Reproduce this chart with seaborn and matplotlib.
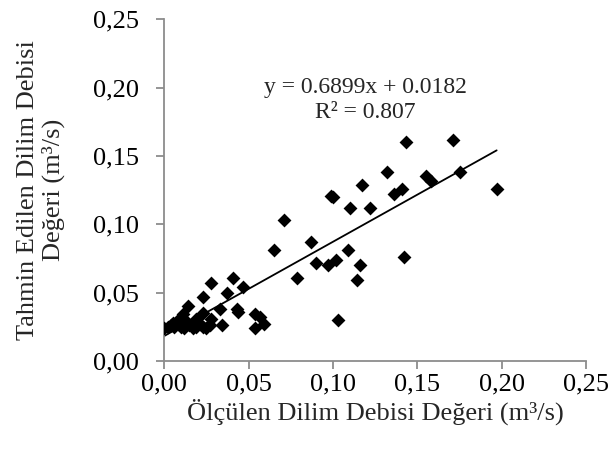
import matplotlib
matplotlib.use("Agg")
import matplotlib.pyplot as plt
import numpy as np
import pandas as pd
import seaborn as sns

# measured (x) vs predicted (y) slice discharge, m3/s
measured = [
    0.143, 0.171, 0.175, 0.197, 0.132, 0.155, 0.158, 0.117, 0.099, 0.100,
    0.136, 0.141, 0.110, 0.122, 0.071, 0.087, 0.090, 0.097, 0.102, 0.109,
    0.116, 0.114, 0.079, 0.142, 0.103, 0.065, 0.054, 0.057, 0.059, 0.054,
    0.028, 0.041, 0.023, 0.037, 0.047, 0.014, 0.033, 0.043, 0.044, 0.023,
    0.011, 0.034, 0.019, 0.028,
    0.000, 0.002, 0.004, 0.006, 0.008, 0.010, 0.012, 0.015, 0.017, 0.019,
    0.021, 0.023, 0.025, 0.027, 0.005, 0.013, 0.009,
]
predicted = [
    0.160, 0.162, 0.138, 0.126, 0.138, 0.135, 0.132, 0.129, 0.121, 0.120,
    0.122, 0.126, 0.112, 0.112, 0.103, 0.087, 0.072, 0.070, 0.074, 0.081,
    0.070, 0.059, 0.061, 0.076, 0.030, 0.081, 0.034, 0.032, 0.027, 0.024,
    0.057, 0.061, 0.047, 0.050, 0.054, 0.040, 0.038, 0.038, 0.036, 0.035,
    0.034, 0.026, 0.031, 0.031,
    0.024, 0.025, 0.026, 0.025, 0.027, 0.025, 0.024, 0.026, 0.024, 0.025,
    0.027, 0.025, 0.024, 0.026, 0.028, 0.029, 0.031,
]
slope = 0.6899
intercept = 0.0182
r_squared = 0.807
ticks = [0.00, 0.05, 0.10, 0.15, 0.20, 0.25]

df = pd.DataFrame({"olculen": measured, "tahmin": predicted})

sns.set_style("white")
plt.rcParams["font.family"] = ["Liberation Serif", "DejaVu Serif"]

fig = plt.figure(figsize=(6.08, 4.5), dpi=100)
ax = fig.add_axes([0.270, 0.198, 0.694, 0.759])

sns.scatterplot(data=df, x="olculen", y="tahmin", marker="D", s=50,
                color="black", linewidth=0, ax=ax, zorder=3)

# Excel style linear trendline over the data range
xs = np.array([df["olculen"].min(), df["olculen"].max()])
ax.plot(xs, slope * xs + intercept, color="black", linewidth=1.3, zorder=2)

ax.text(0.119, 0.200, f"y = {slope}x + {intercept}", ha="center", va="center",
        fontsize=17)
ax.text(0.119, 0.182, f"R² = {r_squared}", ha="center", va="center",
        fontsize=17)

ax.set_xlim(0, 0.25)
ax.set_ylim(0, 0.25)
ax.set_xticks(ticks)
ax.set_yticks(ticks)
fmt = lambda v: f"{v:.2f}".replace(".", ",")
ax.set_xticklabels([fmt(t) for t in ticks])
ax.set_yticklabels([fmt(t) for t in ticks])

for side in ["top", "right"]:
    ax.spines[side].set_visible(False)
for side in ["left", "bottom"]:
    ax.spines[side].set_color("#8c8c8c")
    ax.spines[side].set_linewidth(1.3)
ax.tick_params(axis="both", direction="out", length=6, width=1.3,
               color="#8c8c8c", labelsize=19, labelcolor="black",
               left=True, bottom=True)
ax.tick_params(axis="x", pad=3)
ax.tick_params(axis="y", pad=12)

ax.set_xlabel("Ölçülen Dilim Debisi Değeri (m³/s)", fontsize=19, labelpad=2)
ax.set_ylabel("Tahmin Edilen Dilim Debisi\nDeğeri (m³/s)", fontsize=19,
              linespacing=1.15)
ax.yaxis.set_label_coords(-0.235, 0.5)

fig.savefig("out.png", dpi=100)
